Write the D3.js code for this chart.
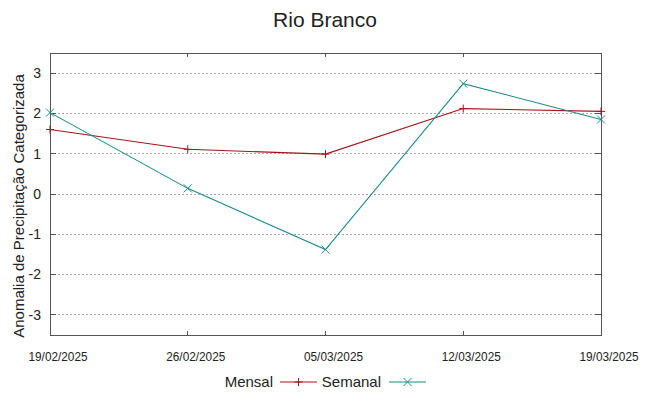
<!DOCTYPE html>
<html>
<head>
<meta charset="utf-8">
<script src="https://cdn.jsdelivr.net/npm/d3@7"></script>
<style>
  body { margin: 0; background: #fff; }
  text { font-family: "Liberation Sans", Arial, sans-serif; fill: #222; }
</style>
</head>
<body>
<div id="chart"></div>
<script>
const dates = ["19/02/2025", "26/02/2025", "05/03/2025", "12/03/2025", "19/03/2025"];
const mensal = [1.6, 1.11, 0.99, 2.12, 2.05];
const semanal = [2.02, 0.14, -1.38, 2.74, 1.85];
const yTicks = [-3, -2, -1, 0, 1, 2, 3];

const W = 649, H = 396;
const margin = { top: 53, right: 48, bottom: 61, left: 50 },
    width = W - margin.left - margin.right,
    height = H - margin.top - margin.bottom;

const parse = d3.timeParse("%d/%m/%Y");
const x = d3.scaleTime()
    .domain([parse(dates[0]), parse(dates[dates.length - 1])])
    .range([0, width]);
const y = d3.scaleLinear().domain([-3.5, 3.5]).range([height, 0]);

const svg = d3.select("#chart").append("svg")
    .attr("width", W).attr("height", H);
const g = svg.append("g")
    .attr("transform", "translate(" + margin.left + "," + margin.top + ")");

// grid
g.append("g").selectAll("line").data(yTicks).enter().append("line")
    .attr("x1", 0).attr("x2", width)
    .attr("y1", d => y(d)).attr("y2", d => y(d))
    .attr("stroke", "#a8a8a8").attr("stroke-dasharray", "2,2")
    .attr("shape-rendering", "crispEdges");

// ticks (inward on all sides)
const axisColor = "#555";
const tk = g.append("g").attr("stroke", axisColor).attr("shape-rendering", "crispEdges");
yTicks.forEach(function (d) {
    tk.append("line").attr("x1", 0).attr("x2", 6).attr("y1", y(d)).attr("y2", y(d));
    tk.append("line").attr("x1", width - 6).attr("x2", width).attr("y1", y(d)).attr("y2", y(d));
});
dates.forEach(function (d) {
    const px = x(parse(d));
    tk.append("line").attr("x1", px).attr("x2", px).attr("y1", height).attr("y2", height - 4);
    tk.append("line").attr("x1", px).attr("x2", px).attr("y1", 0).attr("y2", 4);
});

// border
g.append("rect")
    .attr("width", width).attr("height", height)
    .attr("fill", "none").attr("stroke", axisColor)
    .attr("shape-rendering", "crispEdges");

// tick labels (x labels sit a little right of their ticks, narrow font)
g.append("g").selectAll("text").data(dates).enter().append("text")
    .attr("x", d => x(parse(d)) + 8).attr("y", height + 26)
    .attr("text-anchor", "middle").attr("font-size", 12.5)
    .attr("textLength", 59).attr("lengthAdjust", "spacingAndGlyphs")
    .text(d => d);
g.append("g").selectAll("text").data(yTicks).enter().append("text")
    .attr("x", -9).attr("y", d => y(d)).attr("dy", "0.35em")
    .attr("text-anchor", "end").attr("font-size", 14)
    .text(d => d);

// title and axis label
svg.append("text")
    .attr("x", 325).attr("y", 27)
    .attr("text-anchor", "middle").attr("font-size", 21)
    .text("Rio Branco");
svg.append("text")
    .attr("transform", "translate(24," + (margin.top + height / 2 + 12) + ") rotate(-90)")
    .attr("text-anchor", "middle").attr("font-size", 15)
    .text("Anomalia de Precipitação Categorizada");

// series
const series = [
    { name: "Mensal", values: mensal, color: "#a3151b", marker: "plus" },
    { name: "Semanal", values: semanal, color: "#1f8a8a", marker: "cross" }
];

const line = d3.line()
    .x((d, i) => x(parse(dates[i])))
    .y(d => y(d));

function drawMarker(sel, type, cx, cy, color) {
    const s = 4;
    const p = type === "plus"
        ? "M" + (cx - s) + "," + cy + "H" + (cx + s) + "M" + cx + "," + (cy - s) + "V" + (cy + s)
        : "M" + (cx - s) + "," + (cy - s) + "L" + (cx + s) + "," + (cy + s) +
          "M" + (cx - s) + "," + (cy + s) + "L" + (cx + s) + "," + (cy - s);
    sel.append("path").attr("d", p).attr("stroke", color).attr("stroke-width", 1).attr("fill", "none");
}

series.forEach(function (s) {
    g.append("path")
        .datum(s.values)
        .attr("d", line)
        .attr("fill", "none")
        .attr("stroke", s.color)
        .attr("stroke-width", 1.1);
    const m = g.append("g");
    s.values.forEach(function (v, i) {
        drawMarker(m, s.marker, x(parse(dates[i])), y(v), s.color);
    });
});

// legend
const legend = svg.append("g");
const legItems = [
    { s: series[0], textEnd: 273, x0: 280, x1: 317 },
    { s: series[1], textEnd: 381, x0: 389, x1: 426 }
];
legItems.forEach(function (it) {
    legend.append("text")
        .attr("x", it.textEnd).attr("y", 387)
        .attr("text-anchor", "end").attr("font-size", 15)
        .text(it.s.name);
    legend.append("line")
        .attr("x1", it.x0).attr("x2", it.x1).attr("y1", 382).attr("y2", 382)
        .attr("stroke", it.s.color).attr("stroke-width", 1.1);
    drawMarker(legend, it.s.marker, (it.x0 + it.x1) / 2, 382, it.s.color);
});
</script>
</body>
</html>
